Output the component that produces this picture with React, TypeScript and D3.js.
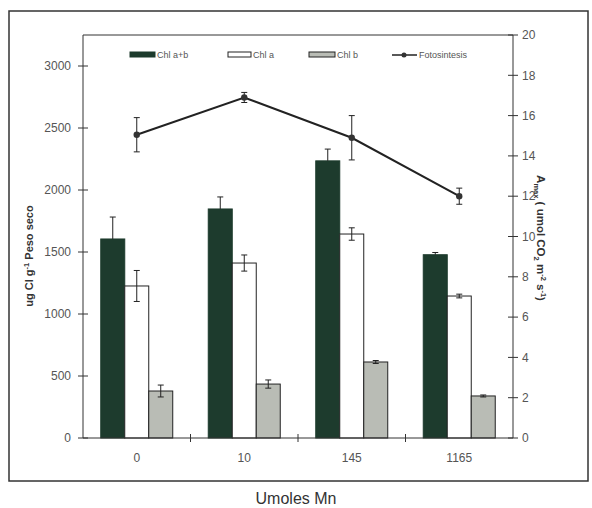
import React from "react";
import * as d3 from "d3";

// Mn doses (x categories)
const doses = ["0", "10", "145", "1165"];
const seriesNames = ["Chl a+b", "Chl a", "Chl b"];
const seriesColors = ["#1d3b2d", "#ffffff", "#b9bcb5"];

// chlorophyll content (ug Cl g-1) and its error
const chlAB = [1605, 1847, 2235, 1478];
const chlABErr = [177, 97, 95, 18];
const chlA = [1226, 1411, 1645, 1145];
const chlAErr = [125, 65, 50, 15];
const chlB = [379, 435, 613, 339];
const chlBErr = [48, 33, 12, 8];

// photosynthesis (umol CO2 m-2 s-1)
const fotosintesis = [15.05, 16.9, 14.9, 12.0];
const fotoErr = [0.85, 0.25, 1.1, 0.4];

const leftTicks = [0, 500, 1000, 1500, 2000, 2500, 3000];
const rightTicks = [0, 2, 4, 6, 8, 10, 12, 14, 16, 18, 20];

const W = 592;
const H = 508;
const font = "'Liberation Sans', Arial, sans-serif";

const App = () => {
  const left = 83;
  const right = 513;
  const top = 35;
  const bottom = 438;

  const x = d3.scaleBand().domain(doses).range([left, right]);
  const xs = d3
    .scaleBand()
    .domain(seriesNames)
    .range([0, x.bandwidth()])
    .paddingOuter(0.74);
  const yL = d3.scaleLinear().domain([0, 3250]).range([bottom, top]);
  const yR = d3.scaleLinear().domain([0, 20]).range([bottom, top]);

  const barData = [
    { name: seriesNames[0], vals: chlAB, err: chlABErr, color: seriesColors[0] },
    { name: seriesNames[1], vals: chlA, err: chlAErr, color: seriesColors[1] },
    { name: seriesNames[2], vals: chlB, err: chlBErr, color: seriesColors[2] },
  ];

  const line = d3
    .line<number>()
    .x((_, i) => x(doses[i])! + x.bandwidth() / 2)
    .y((d) => yR(d));

  const cap = 3;

  return (
    <svg
      width={W}
      height={H}
      style={{ position: "absolute", left: 0, top: 0, background: "#fff" }}
      fontFamily={font}
    >
      <rect x={0} y={0} width={W} height={H} fill="#fff" />
      {/* outer frame */}
      <rect x={9} y={11} width={579} height={470} fill="none" stroke="#333" strokeWidth={1.5} />

      {/* Bars */}
      {barData.map((s) =>
        s.vals.map((v, i) => {
          const bx = x(doses[i])! + xs(s.name)!;
          const cx = bx + xs.bandwidth() / 2;
          const dark = s.name === seriesNames[0];
          return (
            <g key={`${s.name}-${i}`}>
              <rect
                x={bx}
                y={yL(v)}
                width={xs.bandwidth()}
                height={yL(0) - yL(v)}
                fill={s.color}
                stroke={dark ? "#1d3b2d" : "#222"}
                strokeWidth={1}
              />
              <line
                x1={cx}
                x2={cx}
                y1={yL(v + s.err[i])}
                y2={dark ? yL(v) : yL(v - s.err[i])}
                stroke="#222"
              />
              <line x1={cx - cap} x2={cx + cap} y1={yL(v + s.err[i])} y2={yL(v + s.err[i])} stroke="#222" />
              {!dark && (
                <line x1={cx - cap} x2={cx + cap} y1={yL(v - s.err[i])} y2={yL(v - s.err[i])} stroke="#222" />
              )}
            </g>
          );
        })
      )}

      {/* Photosynthesis line */}
      <path d={line(fotosintesis)!} fill="none" stroke="#222" strokeWidth={2} />
      {fotosintesis.map((v, i) => {
        const cx = x(doses[i])! + x.bandwidth() / 2;
        return (
          <g key={`f-${i}`}>
            <line x1={cx} x2={cx} y1={yR(v + fotoErr[i])} y2={yR(v - fotoErr[i])} stroke="#222" />
            <line x1={cx - cap} x2={cx + cap} y1={yR(v + fotoErr[i])} y2={yR(v + fotoErr[i])} stroke="#222" />
            <line x1={cx - cap} x2={cx + cap} y1={yR(v - fotoErr[i])} y2={yR(v - fotoErr[i])} stroke="#222" />
            <circle cx={cx} cy={yR(v)} r={3.2} fill="#333" />
          </g>
        );
      })}

      {/* Plot box */}
      <line x1={left} x2={right} y1={top} y2={top} stroke="#333" />
      <line x1={left} x2={left} y1={top} y2={bottom} stroke="#333" />
      <line x1={right} x2={right} y1={top} y2={bottom} stroke="#333" />
      <line x1={left} x2={right} y1={bottom} y2={bottom} stroke="#333" />

      {/* Left axis */}
      {leftTicks.map((t) => (
        <g key={`l-${t}`}>
          <line x1={left - 5} x2={left + 5} y1={yL(t)} y2={yL(t)} stroke="#333" />
          <text x={left - 12} y={yL(t)} dy="0.35em" textAnchor="end" fontSize={12} fill="#555">
            {t}
          </text>
        </g>
      ))}

      {/* Right axis */}
      {rightTicks.map((t) => (
        <g key={`r-${t}`}>
          <line x1={right - 5} x2={right + 5} y1={yR(t)} y2={yR(t)} stroke="#333" />
          <text x={right + 9} y={yR(t)} dy="0.35em" textAnchor="start" fontSize={12} fill="#555">
            {t}
          </text>
        </g>
      ))}

      {/* X axis ticks and labels */}
      {doses.slice(1).map((d) => (
        <line key={`xt-${d}`} x1={x(d)!} x2={x(d)!} y1={bottom - 4} y2={bottom + 4} stroke="#333" />
      ))}
      {doses.map((d) => (
        <text
          key={`xl-${d}`}
          x={x(d)! + x.bandwidth() / 2}
          y={bottom + 20}
          dy="0.35em"
          textAnchor="middle"
          fontSize={12}
          fill="#555"
        >
          {d}
        </text>
      ))}

      {/* Axis titles */}
      <text
        transform={`translate(33, 256) rotate(-90)`}
        textAnchor="middle"
        fontSize={11}
        fontWeight="bold"
        fill="#333"
      >
        ug Cl g<tspan dy={-4} fontSize={7.5}>-1</tspan>
        <tspan dy={4}> Peso seco</tspan>
      </text>
      <text
        transform={`translate(537, 238) rotate(90)`}
        textAnchor="middle"
        fontSize={11.5}
        fontWeight="bold"
        fill="#333"
      >
        A<tspan dy={3} fontSize={7.5}>max</tspan>
        <tspan dy={-3}> ( umol CO</tspan>
        <tspan dy={3} fontSize={7.5}>2</tspan>
        <tspan dy={-3}> m</tspan>
        <tspan dy={-4} fontSize={7.5}>-2</tspan>
        <tspan dy={4}> s</tspan>
        <tspan dy={-4} fontSize={7.5}>-1</tspan>
        <tspan dy={4}>)</tspan>
      </text>
      <text x={296} y={498} dy="0.35em" textAnchor="middle" fontSize={16} fill="#333">
        Umoles Mn
      </text>

      {/* Legend */}
      <g fontSize={9} fill="#555">
        <rect x={130} y={52} width={25} height={5} fill={seriesColors[0]} stroke="#1d3b2d" />
        <text x={157} y={55} dy="0.35em">{seriesNames[0]}</text>
        <rect x={228} y={52} width={23} height={5} fill={seriesColors[1]} stroke="#222" />
        <text x={253} y={55} dy="0.35em">{seriesNames[1]}</text>
        <rect x={309} y={52} width={26} height={5} fill={seriesColors[2]} stroke="#222" />
        <text x={337} y={55} dy="0.35em">{seriesNames[2]}</text>
        <line x1={392} x2={417} y1={55} y2={55} stroke="#222" strokeWidth={1.5} />
        <circle cx={404} cy={55} r={2.5} fill="#333" />
        <text x={419} y={55} dy="0.35em">Fotosintesis</text>
      </g>
    </svg>
  );
};

export default App;
